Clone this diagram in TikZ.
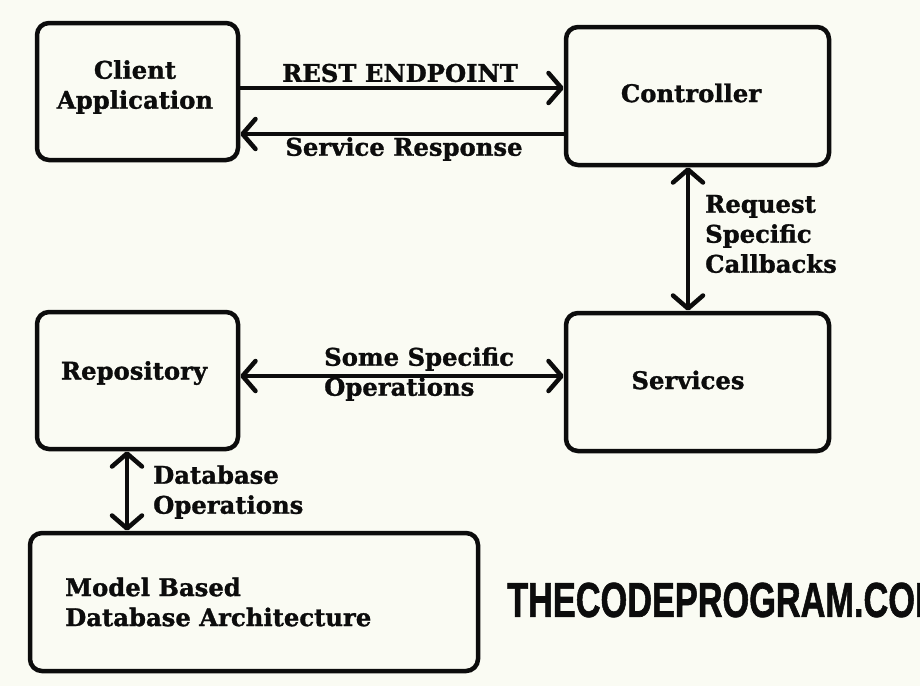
\documentclass[tikz,border=0pt]{standalone}
\usepackage{fontspec}
\setmainfont{DejaVu Serif}[BoldFeatures={FakeBold=1.2}]
\newfontfamily\wmfont{Liberation Sans}[BoldFeatures={FakeBold=1.5}]
\usetikzlibrary{arrows.meta}
\definecolor{bgcol}{RGB}{250,251,243}
\definecolor{inkcol}{RGB}{12,12,12}
\tikzset{
  boxstyle/.style={draw=inkcol, line width=4.5pt, rounded corners=12pt, inner sep=0pt},
  txt/.style={inner sep=0pt, text=inkcol, font=\fontsize{24.3}{30}\selectfont\bfseries},
  conn/.style={draw=inkcol, line width=4.5pt, arrows={-Straight Barb[length=13pt,width=30pt,round]}},
  dconn/.style={draw=inkcol, line width=4.5pt, arrows={Straight Barb[length=13pt,width=30pt,round]-Straight Barb[length=13pt,width=30pt,round]}}
}
\begin{document}
\begin{tikzpicture}[x=1pt,y=-1pt]
\fill[bgcol] (0,0) rectangle (920,686);
\useasboundingbox (0,0) rectangle (920,686);
\clip (0,0) rectangle (920,686);
% boxes
\node[boxstyle, minimum width=201pt, minimum height=137pt] (client) at (137.5,91.5) {};
\node[boxstyle, minimum width=263pt, minimum height=138pt] (ctrl) at (697.5,96) {};
\node[boxstyle, minimum width=201pt, minimum height=137pt] (repo) at (137.5,380.5) {};
\node[boxstyle, minimum width=263pt, minimum height=138pt] (serv) at (697.5,382) {};
\node[boxstyle, minimum width=448pt, minimum height=138pt] (db) at (254,602) {};
% box texts
\node[txt, align=center] (clientT) at (135,87) {Client\\Application};
\node[txt] (ctrlT) at (691,93) {Controller};
\node[txt] (repoT) at (134,373) {Repository};
\node[txt] (servT) at (688,380) {Services};
\node[txt, align=left, anchor=west] (dbT) at (65,602) {Model Based\\Database Architecture};
% connectors
\draw[conn] ([yshift=3.5pt]client.east) -- ([yshift=8pt]ctrl.west);
\draw[conn] ([yshift=-38pt]ctrl.west) -- ([yshift=-42.5pt]client.east);
\draw[dconn] ([xshift=-9.5pt]ctrl.south) -- ([xshift=-9.5pt]serv.north);
\draw[dconn] ([yshift=4.5pt]repo.east) -- ([yshift=6pt]serv.west);
\draw[dconn] ([xshift=-10.5pt]repo.south) -- ([xshift=-127pt]db.north);
% connector labels
\node[txt] (restL) at (400,73) {REST ENDPOINT};
\node[txt] (respL) at (404,149) {Service Response};
\node[txt, align=left, anchor=west] (reqL) at (705,234) {Request\\Specific\\Callbacks};
\node[txt, align=left, anchor=west] (opsL) at (324,374) {Some Specific\\Operations};
\node[txt, align=left, anchor=west] (dbopsL) at (153,492) {Database\\Operations};
% watermark
\node[inner sep=0pt, anchor=west, text=inkcol] (wm) at (507,600) {\scalebox{0.70}[1]{\wmfont\bfseries\fontsize{49}{49}\selectfont THECODEPROGRAM.COM}};
\end{tikzpicture}
\end{document}
